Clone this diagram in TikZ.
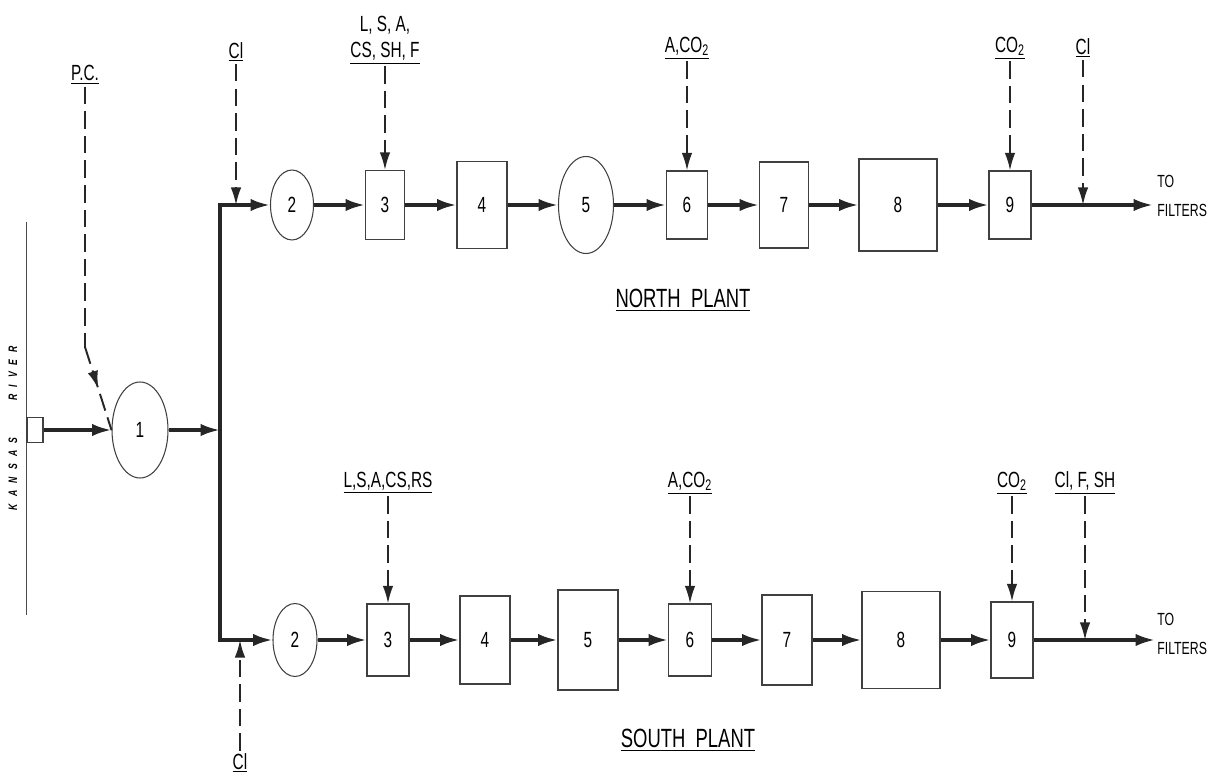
\documentclass[tikz,border=0pt]{standalone}
\usepackage{fontspec}
\setmainfont{Liberation Sans}[FakeStretch=0.7]
\usetikzlibrary{shapes.geometric, arrows.meta, decorations.markings}

\begin{document}
\begin{tikzpicture}[
      x=0.02cm, y=-0.02cm,
      >={Latex[length=11pt, width=7pt]},
      font=\fontsize{12.5}{15}\selectfont,
      unit/.style 2 args={rectangle, draw=black!75, line width=0.6pt, inner sep=0pt, minimum width=#1*0.02cm, minimum height=#2*0.02cm},
      basin/.style 2 args={ellipse, draw=black!75, line width=0.6pt, inner sep=0pt, minimum width=#1*0.02cm, minimum height=#2*0.02cm},
      flow/.style={->, line width=1.9pt, draw=black!85},
      feedline/.style={line width=1.1pt, dash pattern=on 10pt off 4pt, draw=black!85},
      feed/.style={feedline, -{Latex[length=10pt, width=6pt]}},
      chem/.style={inner sep=1pt, align=center},
      plant/.style={inner sep=1pt, font=\fontsize{15}{17}\selectfont},
      outlet/.style={anchor=west, align=left, inner sep=0pt, font=\fontsize{10}{17}\selectfont},
      mid arrow/.style={postaction={decorate}, decoration={markings, mark=at position 0.5 with {\arrow{Latex[length=10pt, width=6pt]}}}}
      ]
      \useasboundingbox (0,0) rectangle (1225,783);

      % River and intake
      \draw[line width=0.5pt, black!70] (26,222) -- (26,615);
      \node[rotate=90, font=\fontsize{7}{8}\selectfont\bfseries\itshape] (river) at (13,428) {K\ \ \ A\ \ \ N\ \ \ S\ \ \ A\ \ \ S\qquad\quad R\ \ \ I\ \ \ V\ \ \ E\ \ \ R};
      \node[unit={16}{25}] (inlet) at (35,430) {};
      \node[basin={56}{96}] (one) at (140,430) {1};
      \coordinate (split) at (220,430);
      \coordinate (nsplit) at (220,205);
      \coordinate (pcbend) at (85,347);

      % North plant
      \node[basin={43}{70}] (n2) at (292,205) {2};
      \node[unit={39}{69}] (n3) at (385,205) {3};
      \node[unit={50}{87}] (n4) at (482,205) {4};
      \node[basin={55}{97}] (n5) at (586,205) {5};
      \node[unit={41}{68}] (n6) at (687,205) {6};
      \node[unit={49}{86}] (n7) at (784,205) {7};
      \node[unit={78}{92}] (n8) at (898,205) {8};
      \node[unit={42}{68}] (n9) at (1010,205) {9};
      \coordinate (ncla) at (236,205);
      \coordinate (nclb) at (1083,205);
      \coordinate (nend) at (1153,205);

      % South plant
      \node[basin={44}{73}] (s2) at (295,640) {2};
      \node[unit={42}{72}] (s3) at (388,640) {3};
      \node[unit={50}{88}] (s4) at (485,640) {4};
      \node[unit={60}{100}] (s5) at (588,640) {5};
      \node[unit={43}{72}] (s6) at (690,640) {6};
      \node[unit={50}{90}] (s7) at (787,640) {7};
      \node[unit={78}{97}] (s8) at (901,640) {8};
      \node[unit={42}{76}] (s9) at (1012,640) {9};
      \coordinate (scla) at (240,640);
      \coordinate (sclb) at (1085,640);
      \coordinate (send) at (1155,640);

      % Chemical feeds
      \node[chem] (pc) at (85,75) {\underline{P.C.}};
      \node[chem] (nclal) at (236,52) {\underline{Cl}};
      \node[chem] (n3l) at (385,40) {L, S, A,\\\underline{CS, SH, F}};
      \node[chem] (n6l) at (687,48) {\underline{A,CO\textsubscript{2}}};
      \node[chem] (n9l) at (1010,48) {\underline{CO\textsubscript{2}}};
      \node[chem] (nclbl) at (1083,48) {\underline{Cl}};
      \node[chem] (s3l) at (388,483) {\underline{L,S,A,CS,RS}};
      \node[chem] (s6l) at (690,483) {\underline{A,CO\textsubscript{2}}};
      \node[chem] (s9l) at (1012,483) {\underline{CO\textsubscript{2}}};
      \node[chem] (sclbl) at (1085,483) {\underline{Cl, F, SH}};
      \node[chem] (sclal) at (240,763) {\underline{Cl}};

      % Labels
      \node[plant] (nplant) at (683,300) {\underline{NORTH\ \ PLANT}};
      \node[plant] (splant) at (688,740) {\underline{SOUTH\ \ PLANT}};
      \node[outlet] (nout) at (1157,196) {TO\\FILTERS};
      \node[outlet] (sout) at (1157,634) {TO\\FILTERS};

      % Flow lines
      \draw[flow] (inlet) -- (one);
      \draw[flow] (one) -- (split);
      \draw[flow, <->] (s2) -| (nsplit) -- (n2);
      \draw[flow] (n2) -- (n3);
      \draw[flow] (n3) -- (n4);
      \draw[flow] (n4) -- (n5);
      \draw[flow] (n5) -- (n6);
      \draw[flow] (n6) -- (n7);
      \draw[flow] (n7) -- (n8);
      \draw[flow] (n8) -- (n9);
      \draw[flow] (n9) -- (nend);
      \draw[flow] (s2) -- (s3);
      \draw[flow] (s3) -- (s4);
      \draw[flow] (s4) -- (s5);
      \draw[flow] (s5) -- (s6);
      \draw[flow] (s6) -- (s7);
      \draw[flow] (s7) -- (s8);
      \draw[flow] (s8) -- (s9);
      \draw[flow] (s9) -- (send);

      % Feed lines
      \draw[feedline] (pc) -- (pcbend);
      \draw[feedline, mid arrow] (pcbend) -- (one.west);
      \draw[feed] (nclal) -- (ncla);
      \draw[feed] (n3l) -- (n3);
      \draw[feed] (n6l) -- (n6);
      \draw[feed] (n9l) -- (n9);
      \draw[feed] (nclbl) -- (nclb);
      \draw[feed] (s3l) -- (s3);
      \draw[feed] (s6l) -- (s6);
      \draw[feed] (s9l) -- (s9);
      \draw[feed] (sclbl) -- (sclb);
      \draw[feed] (sclal) -- (scla);
    \end{tikzpicture}
\end{document}
